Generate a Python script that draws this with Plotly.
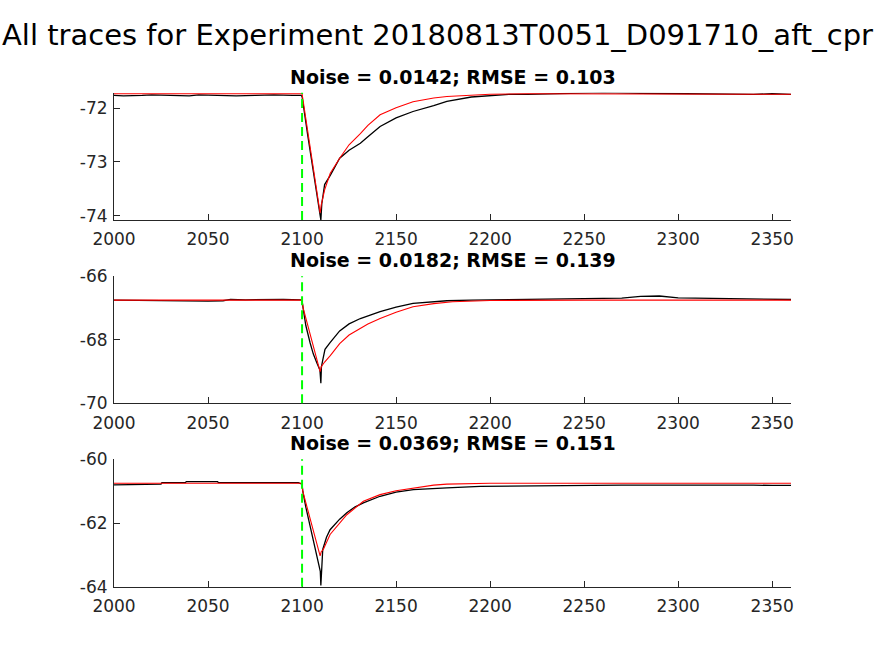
import plotly.graph_objects as go

# ---------------- data ----------------
suptitle = "All traces for Experiment 20180813T0051_D091710_aft_cpr"
panel_titles = ["Noise = 0.0142; RMSE = 0.103",
                "Noise = 0.0182; RMSE = 0.139",
                "Noise = 0.0369; RMSE = 0.151"]
stim_time = 2100
x_ticks = [2000, 2050, 2100, 2150, 2200, 2250, 2300, 2350]
x_range = [2000, 2360]

# panel 1
t1_rec = [2000, 2005, 2015, 2020, 2030, 2040, 2045, 2055, 2065, 2075, 2085, 2095, 2099.5,
          2100, 2101, 2103, 2105, 2107, 2109, 2110, 2110.5, 2112, 2115, 2120, 2125, 2131,
          2135, 2141.5, 2150, 2159, 2170, 2177, 2190, 2200, 2210, 2220, 2230, 2240, 2260,
          2280, 2300, 2320, 2340, 2350, 2360]
v1_rec = [-71.76, -71.77, -71.76, -71.75, -71.76, -71.77, -71.75, -71.76, -71.77, -71.76,
          -71.75, -71.76, -71.76, -71.78, -72.05, -72.50, -72.95, -73.40, -73.85, -74.08,
          -73.78, -73.42, -73.25, -72.93, -72.78, -72.65, -72.53, -72.34, -72.18, -72.06,
          -71.95, -71.87, -71.79, -71.76, -71.74, -71.74, -71.73, -71.72, -71.71, -71.72,
          -71.73, -71.74, -71.74, -71.73, -71.74]
t1_fit = [2000, 2100, 2109.6, 2110.2, 2112, 2115, 2120, 2125, 2131, 2135, 2141.5, 2150,
          2159, 2170, 2177, 2190, 2200, 2220, 2250, 2300, 2360]
v1_fit = [-71.73, -71.73, -73.95, -73.80, -73.52, -73.21, -72.93, -72.68, -72.47, -72.32,
          -72.12, -71.99, -71.88, -71.81, -71.78, -71.75, -71.74, -71.73, -71.73, -71.73,
          -71.74]
y1_range = [-74.08, -71.71]
y1_ticks = [-74, -73, -72]

# panel 2
t2_rec = [2000, 2010, 2020, 2025, 2030, 2040, 2050, 2058, 2062, 2070, 2080, 2090, 2099.5,
          2100, 2100.7, 2102, 2104.3, 2106, 2108, 2109.5, 2110, 2110.3, 2111, 2112.2, 2115,
          2120, 2125, 2131, 2141.5, 2150, 2159, 2170, 2177, 2190, 2200, 2220, 2240, 2260,
          2270, 2280, 2290, 2300, 2320, 2340, 2360]
v2_rec = [-66.75, -66.76, -66.75, -66.77, -66.76, -66.78, -66.78, -66.77, -66.73, -66.74,
          -66.73, -66.73, -66.74, -66.78, -67.06, -67.55, -68.10, -68.45, -68.75, -68.95,
          -69.37, -68.85, -68.64, -68.30, -68.08, -67.72, -67.50, -67.33, -67.11, -66.97,
          -66.85, -66.80, -66.77, -66.75, -66.74, -66.72, -66.70, -66.69, -66.69, -66.63,
          -66.62, -66.68, -66.69, -66.72, -66.73]
t2_fit = [2000, 2100, 2100.6, 2109.6, 2110.2, 2112, 2115, 2120, 2125, 2131, 2135, 2141.5,
          2150, 2159, 2170, 2180, 2190, 2200, 2250, 2360]
v2_fit = [-66.75, -66.75, -67.00, -69.00, -68.85, -68.70, -68.50, -68.12, -67.85, -67.64,
          -67.50, -67.33, -67.13, -66.96, -66.86, -66.80, -66.77, -66.76, -66.75, -66.75]
y2_range = [-70, -66]
y2_ticks = [-70, -68, -66]

# panel 3
t3_rec = [2000, 2020, 2020.5, 2025, 2025.5, 2038, 2038.5, 2050, 2055, 2055.5, 2065, 2065.5,
          2068, 2068.5, 2080, 2080.5, 2085, 2085.5, 2098, 2100, 2100.4, 2102, 2104.3, 2107.8,
          2109.7, 2110, 2110.5, 2111, 2113, 2114.9, 2120, 2123.8, 2128, 2132.6, 2141.5, 2150,
          2159.2, 2170, 2177, 2194.7, 2210, 2240, 2270, 2300, 2330, 2340, 2350, 2360]
v3_rec = [-60.80, -60.80, -60.78, -60.78, -60.73, -60.73, -60.70, -60.70, -60.70, -60.73,
          -60.73, -60.71, -60.71, -60.73, -60.73, -60.71, -60.71, -60.73, -60.73, -60.78,
          -61.01, -61.50, -62.12, -63.10, -63.52, -63.96, -63.30, -62.83, -62.45, -62.21,
          -61.88, -61.68, -61.50, -61.37, -61.16, -61.03, -60.95, -60.91, -60.90, -60.85,
          -60.84, -60.82, -60.81, -60.81, -60.80, -60.81, -60.82, -60.82]
t3_fit = [2000, 2100, 2100.4, 2109.6, 2110.2, 2111.3, 2114.9, 2120, 2123.8, 2132.6, 2141.5,
          2150, 2159.2, 2170, 2177, 2190, 2200, 2360]
v3_fit = [-60.75, -60.75, -61.01, -63.03, -62.90, -62.83, -62.36, -62.00, -61.74, -61.32,
          -61.11, -60.99, -60.90, -60.81, -60.78, -60.76, -60.75, -60.75]
y3_range = [-64, -60]
y3_ticks = [-64, -62, -60]

# ---------------- figure ----------------
W, H = 874, 656
ML, MR = 114, 874 - 791
y_doms = [[1 - 220 / H, 1 - 92.7 / H],
          [1 - 403.3 / H, 1 - 276.3 / H],
          [1 - 586.7 / H, 1 - 459.3 / H]]

recs = [(t1_rec, v1_rec), (t2_rec, v2_rec), (t3_rec, v3_rec)]
fits = [(t1_fit, v1_fit), (t2_fit, v2_fit), (t3_fit, v3_fit)]
yranges = [y1_range, y2_range, y3_range]
yticks = [y1_ticks, y2_ticks, y3_ticks]

fig = go.Figure()
axcol = "#262626"
font = "DejaVu Sans"

for i in range(3):
    xa = "x" if i == 0 else f"x{i+1}"
    ya = "y" if i == 0 else f"y{i+1}"
    fig.add_trace(go.Scatter(x=recs[i][0], y=recs[i][1], mode="lines",
                             line=dict(color="black", width=1.3),
                             xaxis=xa, yaxis=ya, showlegend=False, hoverinfo="skip"))
    fig.add_trace(go.Scatter(x=fits[i][0], y=fits[i][1], mode="lines",
                             line=dict(color="red", width=1.1),
                             xaxis=xa, yaxis=ya, showlegend=False, hoverinfo="skip"))
    fig.add_shape(type="line", x0=stim_time, x1=stim_time, y0=0, y1=1,
                  xref=xa, yref=f"{ya} domain",
                  line=dict(color="#00ff00", width=2, dash="9px,5px"))
    xkey = "xaxis" if i == 0 else f"xaxis{i+1}"
    ykey = "yaxis" if i == 0 else f"yaxis{i+1}"
    fig.update_layout(**{
        xkey: dict(domain=[0, 1], range=x_range, anchor=ya, tickvals=x_ticks,
                   ticktext=[str(v) for v in x_ticks], automargin=False,
                   ticks="inside", ticklen=6, tickcolor=axcol, showline=True,
                   linecolor=axcol, linewidth=1, showgrid=False, zeroline=False,
                   ticklabelstandoff=4,
                   tickfont=dict(family=font, size=17, color=axcol)),
        ykey: dict(domain=y_doms[i], range=yranges[i], anchor=xa, tickvals=yticks[i],
                   ticktext=[str(v) for v in yticks[i]], automargin=False,
                   ticks="inside", ticklen=6, tickcolor=axcol, showline=True,
                   linecolor=axcol, linewidth=1, showgrid=False, zeroline=False,
                   ticklabelstandoff=2,
                   tickfont=dict(family=font, size=17, color=axcol)),
    })
    fig.add_annotation(text=f"<b>{panel_titles[i]}</b>", xref="x domain" if i == 0 else f"x{i+1} domain",
                       yref="paper", x=0.5, y=y_doms[i][1], yshift=3,
                       xanchor="center", yanchor="bottom", showarrow=False,
                       font=dict(family=font, size=19, color="black"))

fig.add_annotation(text=suptitle, xref="paper", yref="paper", x=(437 - ML) / (W - ML - MR),
                   y=1 - 35 / H, xanchor="center", yanchor="middle", showarrow=False,
                   font=dict(family=font, size=29, color="black"))

fig.update_layout(width=W, height=H, margin=dict(l=ML, r=MR, t=0, b=0, autoexpand=False),
                  paper_bgcolor="white", plot_bgcolor="white")

fig.write_html("out.html")
